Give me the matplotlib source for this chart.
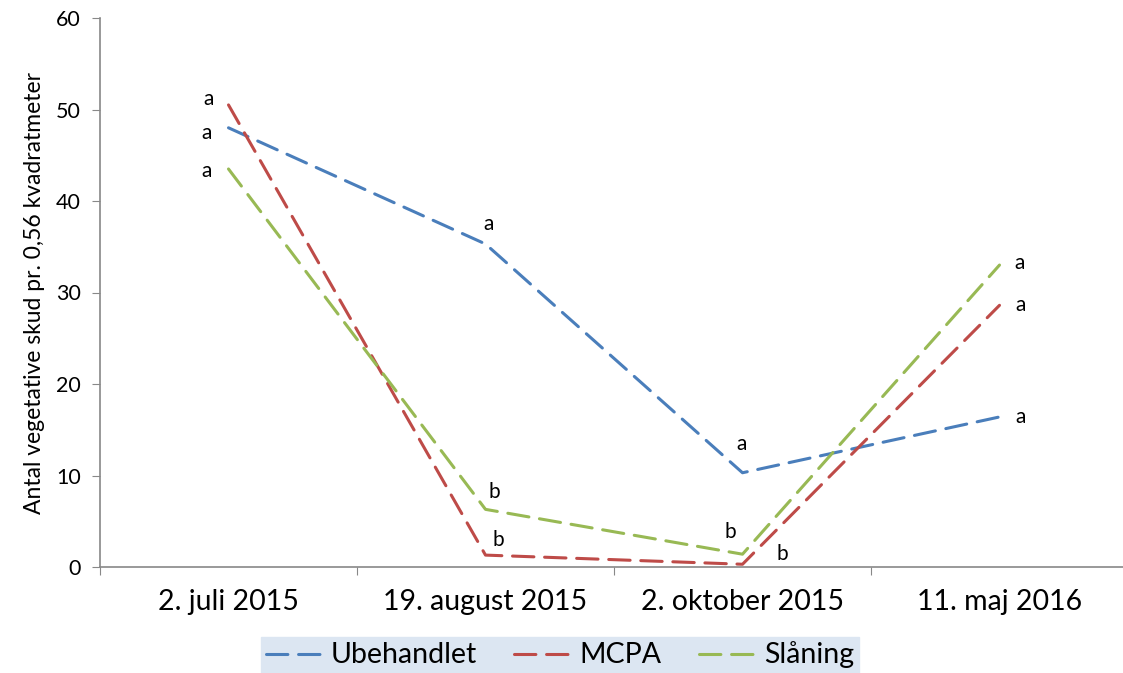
import matplotlib
matplotlib.use("Agg")
import matplotlib.pyplot as plt

plt.rcParams['font.family'] = ['Lato', 'DejaVu Sans']

# data
dates = ["2. juli 2015", "19. august 2015", "2. oktober 2015", "11. maj 2016"]
ubehandlet = [48.0, 35.3, 10.3, 16.4]
mcpa = [50.5, 1.3, 0.3, 28.6]
slaaning = [43.5, 6.3, 1.4, 33.0]

# significance letters per point
letters_ubeh = ["a", "a", "a", "a"]
letters_mcpa = ["a", "b", "b", "a"]
letters_slaa = ["a", "b", "b", "a"]

# where the letters sit relative to the point (pixels)
off_ubeh = [(-22, -5), (3, 20), (-1, 29), (21, 0)]
off_mcpa = [(-20, 6), (13, 15), (40, 10), (21, 0)]
off_slaa = [(-22, -2), (9, 17), (-12, 22), (20, 2)]

fig = plt.figure(figsize=(11.23, 6.73), dpi=100)
ax = fig.add_axes([100/1123, 106/673, 1028/1123, 549/673])

x = list(range(len(dates)))
series = [
    ("Ubehandlet", ubehandlet, letters_ubeh, off_ubeh, "#4a7ebb"),
    ("MCPA", mcpa, letters_mcpa, off_mcpa, "#be4b48"),
    ("Slåning", slaaning, letters_slaa, off_slaa, "#98b954"),
]
for name, vals, lets, offs, col in series:
    ax.plot(x, vals, color=col, lw=2.2, dashes=(7, 3.5), label=name,
            solid_capstyle='round', dash_capstyle='round')
    for i in range(len(vals)):
        ax.annotate(lets[i], (x[i], vals[i]), xytext=offs[i],
                    textcoords='offset pixels', ha='center', va='center',
                    fontsize=15)

ax.set_xlim(-0.5, 3.5)
ax.set_ylim(0, 60)
ax.set_yticks(range(0, 61, 10))
ax.set_xticks([-0.5, 0.5, 1.5, 2.5, 3.5])
ax.set_xticklabels([])
ax.set_xticks(x, minor=True)
ax.set_xticklabels(dates, minor=True, fontsize=20.5)
ax.tick_params(axis='x', which='minor', length=0, pad=16)
ax.tick_params(axis='x', which='major', length=6, color='#888888', direction='out')
ax.tick_params(axis='y', length=6, color='#888888', labelsize=15.5, pad=8)

for s in ['top', 'right']:
    ax.spines[s].set_visible(False)
for s in ['left', 'bottom']:
    ax.spines[s].set_color('#888888')
    ax.spines[s].set_linewidth(1.2)

ax.set_ylabel("Antal vegetative skud pr. 0,56 kvadratmeter", fontsize=16.5, labelpad=8)

leg = fig.legend(loc='center', bbox_to_anchor=(560/1123, 1 - 655/673), ncol=3,
                 fontsize=20.5, frameon=True, fancybox=False, handlelength=2.0,
                 handletextpad=0.3, columnspacing=1.3, borderpad=0.15)
leg.get_frame().set_facecolor('#dce6f2')
leg.get_frame().set_edgecolor('#dce6f2')
leg.get_frame().set_alpha(1)

fig.savefig("out.png", dpi=100)
